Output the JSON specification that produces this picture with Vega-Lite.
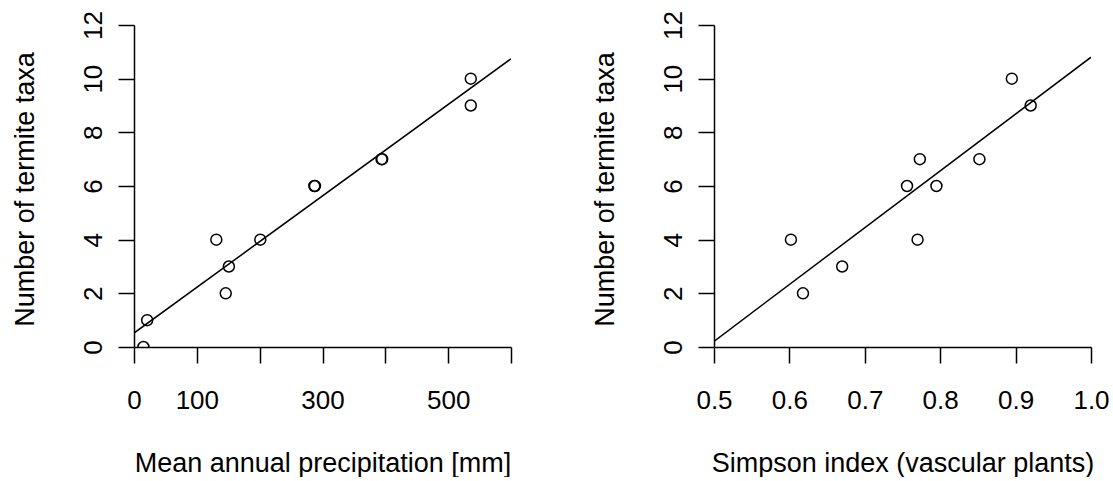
{
  "$schema": "https://vega.github.io/schema/vega-lite/v6.json",
  "background": "white",
  "padding": {"left": 10, "top": 10, "right": 0, "bottom": 0},
  "spacing": 203,
  "bounds": "flush",
  "datasets": {
    "precip": [
      {"mm": 15, "taxa": 0}, {"mm": 21, "taxa": 1}, {"mm": 131, "taxa": 4}, {"mm": 146, "taxa": 2},
      {"mm": 151, "taxa": 3}, {"mm": 201, "taxa": 4}, {"mm": 287, "taxa": 6}, {"mm": 288, "taxa": 6},
      {"mm": 394, "taxa": 7}, {"mm": 395, "taxa": 7}, {"mm": 536, "taxa": 10}, {"mm": 536, "taxa": 9}
    ],
    "precipFit": [{"mm": 0, "taxa": 0.52}, {"mm": 600, "taxa": 10.74}],
    "simpson": [
      {"simpson": 0.602, "taxa": 4}, {"simpson": 0.618, "taxa": 2}, {"simpson": 0.670, "taxa": 3},
      {"simpson": 0.756, "taxa": 6}, {"simpson": 0.773, "taxa": 7}, {"simpson": 0.770, "taxa": 4},
      {"simpson": 0.795, "taxa": 6}, {"simpson": 0.852, "taxa": 7}, {"simpson": 0.895, "taxa": 10},
      {"simpson": 0.920, "taxa": 9}
    ],
    "simpsonFit": [{"simpson": 0.5, "taxa": 0.21}, {"simpson": 1.0, "taxa": 10.8}]
  },
  "config": {
    "view": {"stroke": null},
    "axis": {
      "grid": false,
      "domainColor": "black", "domainWidth": 1.5,
      "tickColor": "black", "tickWidth": 1.5, "tickSize": 16,
      "labelColor": "black", "labelFont": "Liberation Sans", "labelFontSize": 26,
      "titleColor": "black", "titleFont": "Liberation Sans", "titleFontSize": 27, "titleFontWeight": "normal",
      "labelFlush": false, "labelOverlap": false, "labelBound": false
    }
  },
  "hconcat": [
    {
      "width": 377, "height": 322,
      "layer": [
        {
          "data": {"name": "precipFit"},
          "mark": {"type": "line", "color": "black", "strokeWidth": 1.5, "clip": true},
          "encoding": {
            "x": {"field": "mm", "type": "quantitative", "scale": {"domain": [0, 600], "nice": false, "zero": false},
              "axis": {"values": [0, 100, 200, 300, 400, 500, 600],
                "labelExpr": "indexof([0,100,300,500], datum.value) >= 0 ? datum.label : ''",
                "labelBaseline": "alphabetic", "labelPadding": 45.6,
                "title": "Mean annual precipitation [mm]", "titleBaseline": "alphabetic", "titleAlign": "center",
                "titleX": 188.5, "titleY": 124.5}},
            "y": {"field": "taxa", "type": "quantitative", "scale": {"domain": [0, 12], "nice": false, "zero": false},
              "axis": {"values": [0, 2, 4, 6, 8, 10, 12], "labelAngle": -90, "labelAlign": "center",
                "labelBaseline": "alphabetic", "labelPadding": 16.5,
                "title": "Number of termite taxa", "titleAngle": -90, "titleBaseline": "alphabetic",
                "titleAlign": "center", "titleX": -101, "titleY": 164}}
          }
        },
        {
          "data": {"name": "precip"},
          "mark": {"type": "point", "shape": "circle", "filled": false, "color": "black", "strokeWidth": 1.5, "size": 120, "opacity": 1, "clip": true},
          "encoding": {
            "x": {"field": "mm", "type": "quantitative"},
            "y": {"field": "taxa", "type": "quantitative"}
          }
        }
      ]
    },
    {
      "width": 377, "height": 322,
      "layer": [
        {
          "data": {"name": "simpsonFit"},
          "mark": {"type": "line", "color": "black", "strokeWidth": 1.5, "clip": true},
          "encoding": {
            "x": {"field": "simpson", "type": "quantitative", "scale": {"domain": [0.5, 1.0], "nice": false, "zero": false},
              "axis": {"values": [0.5, 0.6, 0.7, 0.8, 0.9, 1.0], "format": ".1f",
                "labelBaseline": "alphabetic", "labelPadding": 45.6,
                "title": "Simpson index (vascular plants)", "titleBaseline": "alphabetic", "titleAlign": "center",
                "titleX": 188.5, "titleY": 124.5}},
            "y": {"field": "taxa", "type": "quantitative", "scale": {"domain": [0, 12], "nice": false, "zero": false},
              "axis": {"values": [0, 2, 4, 6, 8, 10, 12], "labelAngle": -90, "labelAlign": "center",
                "labelBaseline": "alphabetic", "labelPadding": 16.5,
                "title": "Number of termite taxa", "titleAngle": -90, "titleBaseline": "alphabetic",
                "titleAlign": "center", "titleX": -101, "titleY": 164}}
          }
        },
        {
          "data": {"name": "simpson"},
          "mark": {"type": "point", "shape": "circle", "filled": false, "color": "black", "strokeWidth": 1.5, "size": 120, "opacity": 1, "clip": true},
          "encoding": {
            "x": {"field": "simpson", "type": "quantitative"},
            "y": {"field": "taxa", "type": "quantitative"}
          }
        }
      ]
    }
  ]
}
